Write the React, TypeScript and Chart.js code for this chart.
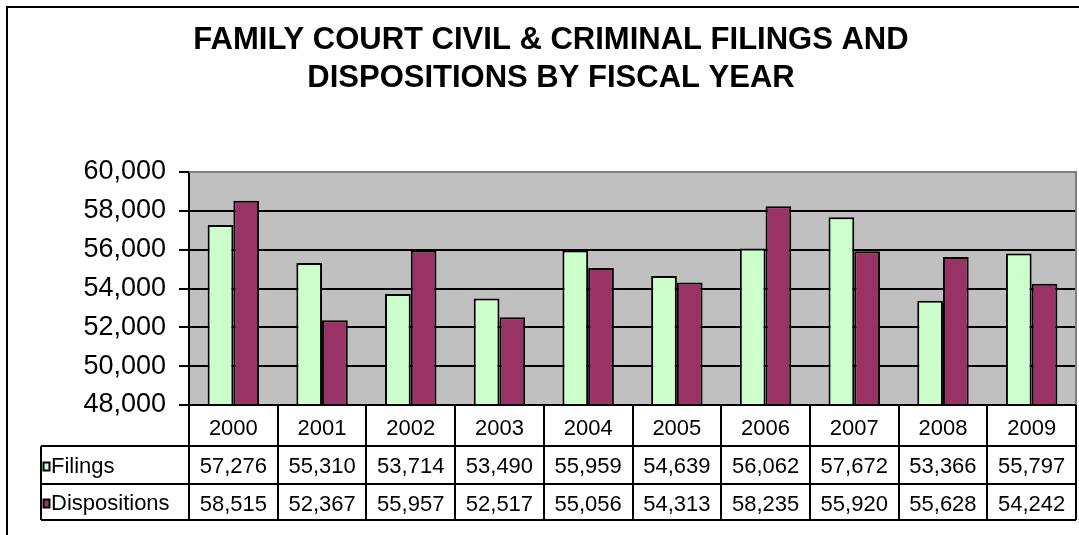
import React, { useEffect, useRef } from "react";
import { Chart, registerables } from "chart.js";

Chart.register(...registerables);

const titleLines = ["FAMILY COURT CIVIL & CRIMINAL FILINGS AND", "DISPOSITIONS BY FISCAL YEAR"];
const categories = ["2000", "2001", "2002", "2003", "2004", "2005", "2006", "2007", "2008", "2009"];
const filings = [57276, 55310, 53714, 53490, 55959, 54639, 56062, 57672, 53366, 55797];
const dispositions = [58515, 52367, 55957, 52517, 55056, 54313, 58235, 55920, 55628, 54242];
const seriesNames = ["Filings", "Dispositions"];
const seriesColors = ["#CCFFCC", "#993366"];
const yMin = 48000;
const yMax = 60000;
const yStep = 2000;

const FONT = "'Liberation Sans', Arial, sans-serif";

const fmt = (v: number) => v.toLocaleString("en-US");

const framePlugin = {
  id: "framePlugin",
  beforeDraw(chart: any) {
    const { ctx, chartArea } = chart;
    ctx.save();
    ctx.fillStyle = "#ffffff";
    ctx.fillRect(0, 0, chart.width, chart.height);
    ctx.fillStyle = "#C0C0C0";
    ctx.fillRect(chartArea.left, chartArea.top, chartArea.right - chartArea.left, chartArea.bottom - chartArea.top);
    ctx.strokeStyle = "#000";
    ctx.lineWidth = 2;
    ctx.beginPath();
    ctx.moveTo(7, chart.height + 2);
    ctx.lineTo(7, 7);
    ctx.lineTo(chart.width + 2, 7);
    ctx.stroke();
    ctx.restore();
  },
  afterDraw(chart: any) {
    const { ctx, chartArea } = chart;
    const xs = chart.scales.x;
    const n = categories.length;
    const left = chartArea.left;
    const right = chartArea.right;
    const colW = (right - left) / n;
    const top = chartArea.bottom;
    const rowY = [top, top + 41, top + 79, top + 115];
    const tableLeft = 41;

    ctx.save();
    ctx.strokeStyle = "#808080";
    ctx.lineWidth = 2;
    ctx.beginPath();
    ctx.moveTo(left, chartArea.top);
    ctx.lineTo(right, chartArea.top);
    ctx.lineTo(right, chartArea.bottom);
    ctx.stroke();

    ctx.strokeStyle = "#000";
    ctx.lineWidth = 2;
    ctx.beginPath();
    ctx.moveTo(left, rowY[0]);
    ctx.lineTo(right, rowY[0]);
    for (let r = 1; r < rowY.length; r++) {
      ctx.moveTo(tableLeft, rowY[r]);
      ctx.lineTo(right, rowY[r]);
    }
    ctx.moveTo(tableLeft, rowY[1]);
    ctx.lineTo(tableLeft, rowY[3]);
    for (let i = 0; i <= n; i++) {
      const x = Math.round(left + i * colW);
      ctx.moveTo(x, rowY[0]);
      ctx.lineTo(x, rowY[3]);
    }
    ctx.stroke();

    ctx.fillStyle = "#000";
    ctx.font = `22px ${FONT}`;
    ctx.textAlign = "center";
    ctx.textBaseline = "middle";
    const rows = [filings, dispositions];
    for (let i = 0; i < n; i++) {
      const cx = xs.getPixelForValue(i);
      ctx.fillText(categories[i], cx, (rowY[0] + rowY[1]) / 2 + 3);
      ctx.fillText(fmt(rows[0][i]), cx, (rowY[1] + rowY[2]) / 2 + 2);
      ctx.fillText(fmt(rows[1][i]), cx, (rowY[2] + rowY[3]) / 2 + 3);
    }
    ctx.textAlign = "left";
    for (let s = 0; s < 2; s++) {
      const cy = (rowY[s + 1] + rowY[s + 2]) / 2;
      ctx.fillStyle = seriesColors[s];
      ctx.fillRect(43.5, cy - 2.5, 6, 8);
      ctx.strokeStyle = "#000";
      ctx.lineWidth = 2;
      ctx.strokeRect(43.5, cy - 2.5, 6, 8);
      ctx.fillStyle = "#000";
      ctx.fillText(seriesNames[s], 51, cy + 2);
    }
    ctx.restore();
  },
};

export default function App() {
  const ref = useRef<HTMLCanvasElement | null>(null);
  useEffect(() => {
    document.body.style.margin = "0";
    const canvas = ref.current;
    if (!canvas) return;
    const chart = new Chart(canvas, {
      type: "bar",
      data: {
        labels: categories,
        datasets: [
          {
            label: seriesNames[0],
            data: filings,
            backgroundColor: seriesColors[0],
            borderColor: "#000",
            borderWidth: 2,
            barPercentage: 1,
            categoryPercentage: 0.58,
          },
          {
            label: seriesNames[1],
            data: dispositions,
            backgroundColor: seriesColors[1],
            borderColor: "#000",
            borderWidth: 2,
            barPercentage: 1,
            categoryPercentage: 0.58,
          },
        ],
      },
      options: {
        responsive: false,
        animation: false,
        devicePixelRatio: 1,
        layout: { padding: { left: 26, right: 3, top: 0, bottom: 0 } },
        plugins: {
          legend: { display: false },
          tooltip: { enabled: false },
          title: {
            display: true,
            text: titleLines,
            color: "#000",
            font: { family: FONT, size: 31, weight: "bold", lineHeight: 1.226 },
            padding: { top: 21, bottom: 75 },
          },
        },
        scales: {
          x: {
            type: "category",
            ticks: { display: false },
            grid: { display: false },
            border: { display: false },
            afterFit: (scale: any) => {
              scale.height = 130;
            },
          },
          y: {
            min: yMin,
            max: yMax,
            ticks: {
              stepSize: yStep,
              color: "#000",
              font: { family: FONT, size: 27 },
              padding: 13,
              callback: (v: any) => fmt(Number(v)),
            },
            grid: {
              color: "#000",
              tickColor: "#000",
              lineWidth: 2,
              tickLength: 10,
            },
            border: { display: true, color: "#000", width: 2 },
            afterFit: (scale: any) => {
              scale.width = 163;
            },
          },
        },
      },
      plugins: [framePlugin],
    });
    return () => chart.destroy();
  }, []);
  return <canvas ref={ref} width={1079} height={535} style={{ display: "block" }} />;
}
